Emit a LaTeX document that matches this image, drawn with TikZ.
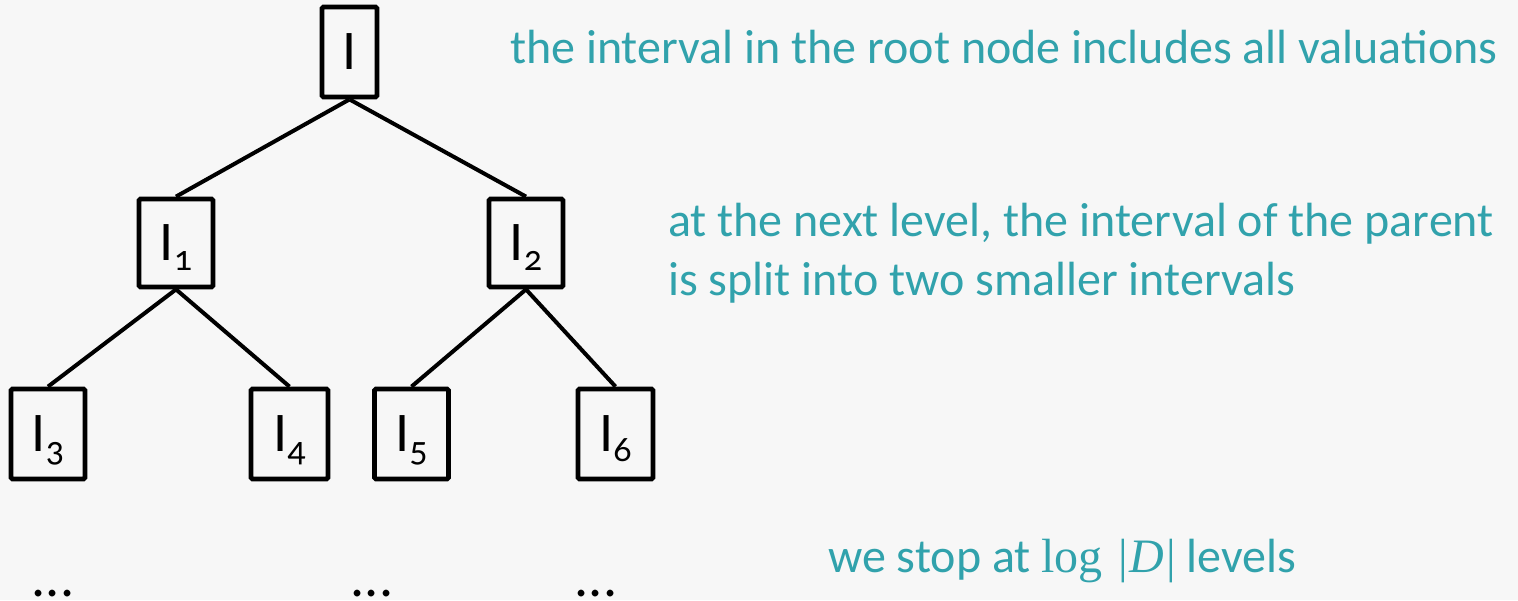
\documentclass[tikz,border=0pt]{standalone}
\usepackage{fontspec}
\setmainfont{Carlito}[Numbers=OldStyle]
\newfontfamily\formfont{Liberation Serif}
\definecolor{bg}{RGB}{247,247,247}
\definecolor{teal}{RGB}{49,162,172}
\begin{document}
\begin{tikzpicture}[x=1pt,y=-1pt,
  ibox/.style={draw=black,line width=4.8pt,rounded corners=1.5pt,fill=bg,
    minimum width=74pt,minimum height=88pt,inner sep=0pt,
    font=\fontsize{56}{60}\selectfont},
  edge/.style={line width=4pt},
  note/.style={text=teal,anchor=base west,inner sep=0pt,
    font=\fontsize{48}{58.3}\selectfont,align=left},
  dots/.style={anchor=base,inner sep=0pt,font=\fontsize{56}{60}\selectfont}]
\newcommand{\sublab}[1]{I\smash{\raisebox{-10pt}{\fontsize{36}{36}\selectfont #1}}}
\fill[bg] (0,0) rectangle (1518,600);
\useasboundingbox (0,0) rectangle (1518,600);
% tree of intervals
\node[ibox,minimum width=55pt,minimum height=90pt] (r) at (349.5,52) {I};
\node[ibox] (a) at (176,243) {\sublab{1}};
\node[ibox] (b) at (526,243) {\sublab{2}};
\node[ibox,minimum height=90pt] (c) at (48,434) {\sublab{3}};
\node[ibox,minimum width=77pt,minimum height=90pt] (d) at (289.5,434) {\sublab{4}};
\node[ibox,minimum height=90pt] (e) at (411.5,434) {\sublab{5}};
\node[ibox,minimum width=75pt,minimum height=90pt] (f) at (615.5,434) {\sublab{6}};
\draw[edge] (r.south) -- (a.north);
\draw[edge] (r.south) -- (b.north);
\draw[edge] (a.south) -- (c.north);
\draw[edge] (a.south) -- (d.north);
\draw[edge] (b.south) -- (e.north);
\draw[edge] (b.south) -- (f.north);
% continuation marks along the lower edge
\node[dots] (g) at (53,596) {...};
\node[dots] (h) at (372,596) {...};
\node[dots] (k) at (596,596) {...};
% explanations
\node[note] (t1) at (510,63.3) {the interval in the root node includes all valuations};
\node[note] (t2) at (668,295) {at the next level, the interval of the parent\\is split into two smaller intervals};
\node[note] (t3) at (828,572.7) {we stop at {\formfont log\,\,|\kern1pt{\itshape D}\kern2pt|} levels};
\end{tikzpicture}
\end{document}
